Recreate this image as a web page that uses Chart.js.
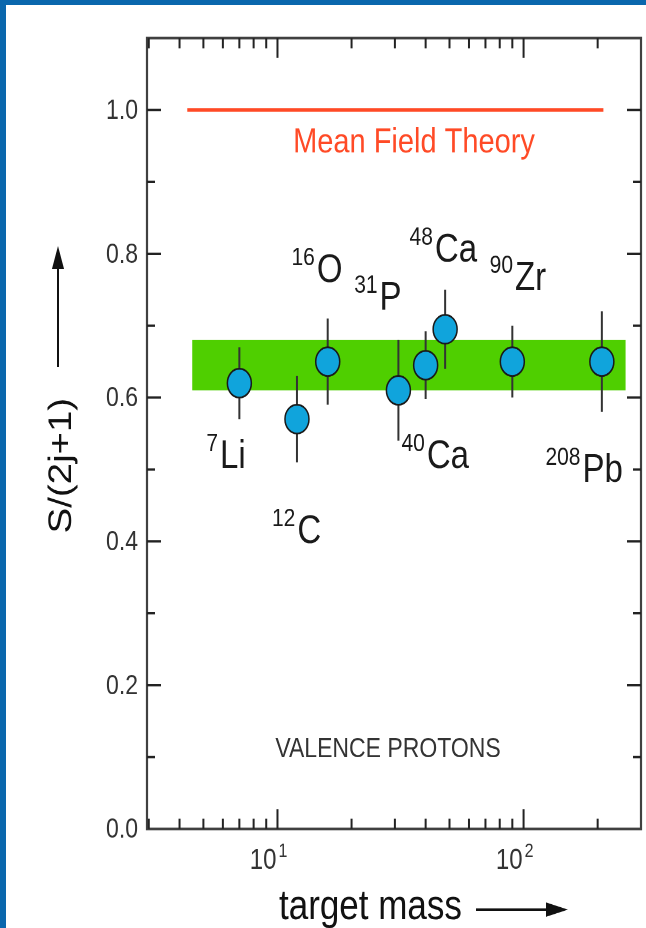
<!DOCTYPE html>
<html lang="en">
<head>
  <meta charset="UTF-8">
  <title>Spectroscopic factors - valence protons</title>
  <script src="https://cdn.jsdelivr.net/npm/chart.js"></script>
  <style>
    html, body {
      margin: 0;
      padding: 0;
      background: #fff;
      overflow: hidden;
      width: 646px;
      height: 928px;
    }
    /* the source picture is stretched vertically, so the whole chart is too */
    #wrap {
      position: absolute;
      left: 0;
      top: 0;
      width: 646px;
      height: 774px;
      transform: scaleY(1.2);
      transform-origin: 0 0;
    }
    .edge { position: absolute; background: #0a67ad; }
  </style>
</head>
<body>
  <div id="wrap"><canvas id="sfChart" width="646" height="774"></canvas></div>
  <div class="edge" style="left:0;top:0;width:646px;height:5px"></div>
  <div class="edge" style="left:0;top:0;width:6px;height:928px"></div>

  <script>
    // values
    const masses = [7, 12, 16, 31, 40, 48, 90, 208];
    const massNumbers = ['7', '12', '16', '31', '40', '48', '90', '208'];
    const elements = ['Li', 'C', 'O', 'P', 'Ca', 'Ca', 'Zr', 'Pb'];
    const sFactors = [0.62, 0.57, 0.65, 0.61, 0.645, 0.695, 0.65, 0.65];
    const sErrors = [0.05, 0.06, 0.06, 0.07, 0.047, 0.055, 0.05, 0.07];

    const bandMass = [4.5, 260];
    const bandLow = [0.61, 0.61];
    const bandHigh = [0.68, 0.68];
    const meanFieldMass = [4.3, 211];
    const meanField = [1.0, 1.0];

    const yTickValues = [0, 0.2, 0.4, 0.6, 0.8, 1.0];
    const yTickLabels = ['0.0', '0.2', '0.4', '0.6', '0.8', '1.0'];
    const xDecades = [10, 100];
    const xDecadeExp = ['1', '2'];

    const FONT = '"Liberation Sans", Arial, Helvetica, sans-serif';

    // label anchors (mass, value) for the isotope names
    const labelAt = [
      [5.14, 0.502], [9.5, 0.398], [11.4, 0.761], [20.5, 0.722],
      [31.9, 0.502], [34.4, 0.789], [72.8, 0.750], [122.7, 0.483]
    ];

    const errorPts = [];
    masses.forEach((m, i) => {
      errorPts.push({x: m, y: sFactors[i] - sErrors[i]});
      errorPts.push({x: m, y: sFactors[i] + sErrors[i]});
      errorPts.push({x: m, y: null});
    });

    function supText(ctx, sup, main, x, y, supSize, mainSize, raise) {
      ctx.textAlign = 'left';
      ctx.textBaseline = 'alphabetic';
      ctx.font = supSize + 'px ' + FONT;
      ctx.fillText(sup, x, y - raise);
      const w = ctx.measureText(sup).width;
      ctx.font = mainSize + 'px ' + FONT;
      ctx.fillText(main, x + w + 2, y);
    }

    const decor = {
      id: 'decor',
      afterDraw(chart) {
        const ctx = chart.ctx;
        const a = chart.chartArea;
        const xs = chart.scales.x, ys = chart.scales.y;
        ctx.save();

        // frame
        ctx.strokeStyle = '#404040';
        ctx.lineWidth = 2.2;
        ctx.strokeRect(a.left, a.top, a.right - a.left, a.bottom - a.top);

        // inward ticks
        ctx.strokeStyle = '#222';
        ctx.lineWidth = 2;
        ctx.beginPath();
        for (let d = 1; d <= 100; d *= 10) {
          for (let k = 1; k <= 9; k++) {
            const v = k * d;
            if (v <= xs.min || v >= xs.max) continue;
            const p = xs.getPixelForValue(v);
            const len = k === 1 ? 16.5 : 8.5;
            ctx.moveTo(p, a.bottom); ctx.lineTo(p, a.bottom - len);
            ctx.moveTo(p, a.top); ctx.lineTo(p, a.top + len);
          }
        }
        for (let i = 1; i <= 10; i++) {
          const p = ys.getPixelForValue(i / 10);
          const len = i % 2 === 0 ? 14 : 8;
          ctx.moveTo(a.left, p); ctx.lineTo(a.left + len, p);
          ctx.moveTo(a.right, p); ctx.lineTo(a.right - len, p);
        }
        ctx.stroke();

        ctx.fillStyle = '#333';
        // y tick labels
        ctx.font = '23px ' + FONT;
        ctx.textAlign = 'right';
        ctx.textBaseline = 'middle';
        yTickValues.forEach((v, i) => {
          ctx.fillText(yTickLabels[i], 138, ys.getPixelForValue(v) + 1);
        });
        // x tick labels 10^1, 10^2
        xDecades.forEach((v, i) => {
          const p = xs.getPixelForValue(v);
          ctx.font = '24px ' + FONT;
          ctx.textAlign = 'right';
          ctx.textBaseline = 'alphabetic';
          ctx.fillText('10', p - 1, 724);
          ctx.font = '16px ' + FONT;
          ctx.textAlign = 'left';
          ctx.fillText(xDecadeExp[i], p + 1, 714);
        });

        // axis titles with arrows
        ctx.fillStyle = '#111';
        ctx.strokeStyle = '#111';
        ctx.font = '35px ' + FONT;
        ctx.textAlign = 'left';
        ctx.fillText('target mass', 279, 766);
        ctx.lineWidth = 2;
        ctx.beginPath();
        ctx.moveTo(476, 758); ctx.lineTo(550, 758);
        ctx.stroke();
        ctx.beginPath();
        ctx.moveTo(568, 758); ctx.lineTo(546, 752); ctx.lineTo(546, 764);
        ctx.closePath(); ctx.fill();

        ctx.save();
        ctx.translate(62, 388);
        ctx.rotate(-Math.PI / 2);
        ctx.font = '32px ' + FONT;
        ctx.textAlign = 'center';
        ctx.textBaseline = 'middle';
        ctx.fillText('S/(2j+1)', 0, 0);
        ctx.restore();
        ctx.beginPath();
        ctx.moveTo(58, 306); ctx.lineTo(58, 222);
        ctx.stroke();
        ctx.beginPath();
        ctx.moveTo(58, 205); ctx.lineTo(52, 224); ctx.lineTo(64, 224);
        ctx.closePath(); ctx.fill();

        // isotope labels
        ctx.fillStyle = '#1a1a1a';
        masses.forEach((m, i) => {
          const [lx, ly] = labelAt[i];
          supText(ctx, massNumbers[i], elements[i],
            xs.getPixelForValue(lx), ys.getPixelForValue(ly), 21, 33, 14);
        });

        // annotations
        ctx.fillStyle = '#ff4a26';
        ctx.font = '29px ' + FONT;
        ctx.textAlign = 'center';
        ctx.fillText('Mean Field Theory', 414, 127);
        ctx.fillStyle = '#333';
        ctx.font = '23px ' + FONT;
        ctx.fillText('VALENCE PROTONS', 388, 631);

        ctx.restore();
      }
    };

    new Chart(document.getElementById('sfChart'), {
      type: 'scatter',
      data: {
        datasets: [
          {
            label: 'S/(2j+1)',
            data: masses.map((m, i) => ({x: m, y: sFactors[i]})),
            pointRadius: 12,
            pointHoverRadius: 12,
            backgroundColor: '#10a4dc',
            borderColor: '#1a1a1a',
            borderWidth: 1.5,
            order: 0
          },
          {
            label: 'error',
            type: 'line',
            data: errorPts,
            borderColor: '#333',
            borderWidth: 2,
            pointRadius: 0,
            spanGaps: false,
            order: 1
          },
          {
            label: 'mean field',
            type: 'line',
            data: meanFieldMass.map((m, i) => ({x: m, y: meanField[i]})),
            borderColor: '#ff4a26',
            borderWidth: 3,
            pointRadius: 0,
            order: 2
          },
          {
            label: 'band high',
            type: 'line',
            data: bandMass.map((m, i) => ({x: m, y: bandHigh[i]})),
            borderWidth: 0,
            pointRadius: 0,
            backgroundColor: '#4fcf00',
            fill: '+1',
            order: 3
          },
          {
            label: 'band low',
            type: 'line',
            data: bandMass.map((m, i) => ({x: m, y: bandLow[i]})),
            borderWidth: 0,
            pointRadius: 0,
            order: 4
          }
        ]
      },
      options: {
        responsive: false,
        animation: false,
        devicePixelRatio: 2,
        layout: {
          autoPadding: false,
          padding: { left: 147, right: 5, top: 31.7, bottom: 83.2 }
        },
        plugins: { legend: { display: false }, tooltip: { enabled: false } },
        scales: {
          x: { type: 'logarithmic', min: 2.95, max: 300, display: false },
          y: { type: 'linear', min: 0, max: 1.1, display: false }
        }
      },
      plugins: [decor]
    });
  </script>
</body>
</html>
